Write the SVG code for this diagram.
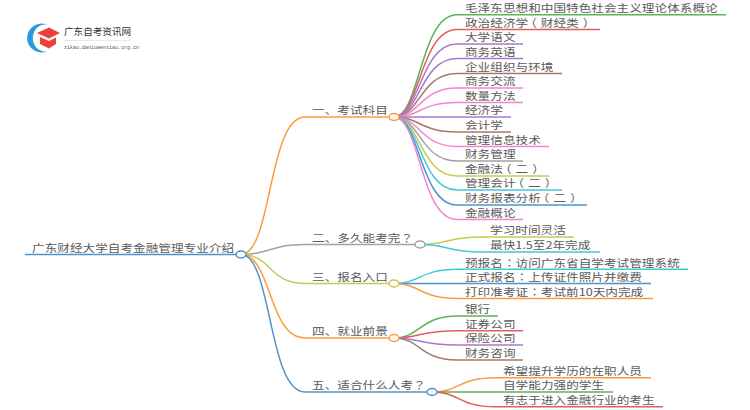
<svg xmlns="http://www.w3.org/2000/svg" width="750" height="410" viewBox="0 0 750 410">
<style>
text{font-family:"Noto Sans CJK SC","Liberation Sans",sans-serif;font-size:10.500px;fill:#5a5a5a}
.t{font-family:"Noto Sans CJK TC","Liberation Sans",sans-serif}
.c{fill:none;stroke-width:1.5}
.n{fill:#fff;stroke-width:1.5}
.g{stroke:#5ab552}.r{stroke:#e65c5c}.p{stroke:#a878d0}.b{stroke:#a57868}.k{stroke:#ee88cc}.a{stroke:#a3a3a3}.o{stroke:#c9c950}.y{stroke:#40c8dc}.l{stroke:#4d94cc}.f{stroke:#ff9a3c}
</style>
<g id="connectors">
<path class="c l" d="M25,254.500H241"/>
<path class="c f" d="M241,254.500C272,254.500 268,117 305,117H394"/>
<path class="c a" d="M241,254.500C272,254.500 268,244.500 305,244.500H420"/>
<path class="c o" d="M241,254.500C272,254.500 268,283.500 305,283.500H394"/>
<path class="c f" d="M241,254.500C272,254.500 268,338 305,338H394"/>
<path class="c l" d="M241,254.500C272,254.500 268,392 305,392H432"/>
<path class="c g" d="M394,117C420,117 420,14.700 457,14.700H726"/>
<path class="c r" d="M394,117C420,117 420,29.500 457,29.500H600"/>
<path class="c p" d="M394,117C420,117 420,44 457,44H523"/>
<path class="c p" d="M394,117C420,117 420,58.500 457,58.500H523"/>
<path class="c b" d="M394,117C420,117 420,73.500 457,73.500H562"/>
<path class="c k" d="M394,117C420,117 420,88 457,88H523"/>
<path class="c k" d="M394,117C420,117 420,102.500 457,102.500H523"/>
<path class="c p" d="M394,117H511"/>
<path class="c b" d="M394,117C420,117 420,132 457,132H511"/>
<path class="c k" d="M394,117C420,117 420,146.500 457,146.500H549"/>
<path class="c a" d="M394,117C420,117 420,161 457,161H523"/>
<path class="c o" d="M394,117C420,117 420,176 457,176H549"/>
<path class="c y" d="M394,117C420,117 420,190 457,190H562"/>
<path class="c l" d="M394,117C420,117 420,205 457,205H587"/>
<path class="c k" d="M394,117C420,117 420,219.500 457,219.500H523"/>
<path class="c o" d="M420,244.500C450,244.500 445,237 482,237H574"/>
<path class="c y" d="M420,244.500C450,244.500 445,252 482,252H600"/>
<path class="c y" d="M394,283.500C420,283.500 420,269.300 457,269.300H688"/>
<path class="c l" d="M394,283.500H651"/>
<path class="c f" d="M394,283.500C420,283.500 420,298.500 457,298.500H653"/>
<path class="c g" d="M394,338C420,338 420,316 457,316H498"/>
<path class="c r" d="M394,338C420,338 420,330.700 457,330.700H523"/>
<path class="c p" d="M394,338C420,338 420,345 457,345H523"/>
<path class="c b" d="M394,338C420,338 420,360 457,360H523"/>
<path class="c f" d="M432,392C460,392 458,377.700 495,377.700H651"/>
<path class="c g" d="M432,392H613"/>
<path class="c r" d="M432,392C460,392 458,406.700 495,406.700H663"/>
</g>
<g id="logo">
<path d="M48,25A14.500,14.500 0 1 0 48,51A12,13.500 0 1 1 48,25Z" fill="#2a9ad8"/>
<path d="M37,33L49,27.500L60,33L49,38.500Z" fill="#ee3f3a"/>
<path d="M40,37L49,41L56,37.500V44L49,48.500L40,44Z" fill="#ee3f3a"/>
<text x="64" y="35" style="font-size:9.600px;fill:#333">广东自考资讯网</text>
<path d="M63,40.500H131" stroke="#ddd" stroke-width="0.700"/>
<text x="64" y="48.500" style="font-size:5px;fill:#555;font-family:'Liberation Mono',monospace">zikao.daniuwenxiao.org.cn</text>
</g>
<g id="root"><text transform="scale(1.205 1)" x="26.560" y="252">广东财经大学自考金融管理专业介绍</text><ellipse class="n l" cx="241" cy="254.500" rx="5" ry="3.500"/></g>
<g id="n1"><text transform="scale(1.205 1)" x="258.920" y="114.500">一、考试科目</text><ellipse class="n f" cx="394" cy="117" rx="5" ry="3.500"/></g>
<g id="n2"><text transform="scale(1.205 1)" x="258.920" y="242">二、多久能考完<tspan class="t">？</tspan></text><ellipse class="n a" cx="420" cy="244.500" rx="5" ry="3.500"/></g>
<g id="n3"><text transform="scale(1.205 1)" x="258.920" y="281">三、报名入口</text><ellipse class="n o" cx="394" cy="283.500" rx="5" ry="3.500"/></g>
<g id="n4"><text transform="scale(1.205 1)" x="258.920" y="335.500">四、就业前景</text><ellipse class="n f" cx="394" cy="338" rx="5" ry="3.500"/></g>
<g id="n5"><text transform="scale(1.205 1)" x="258.920" y="389.500">五、适合什么人考<tspan class="t">？</tspan></text><ellipse class="n l" cx="432" cy="392" rx="5" ry="3.500"/></g>
<g id="leaves" transform="scale(1.205 1)">
<text x="385.890" y="12.400">毛泽东思想和中国特色社会主义理论体系概论</text>
<text x="385.890" y="27">政治经济学<tspan dx="-3.300">（</tspan><tspan dx="3.300">财经类</tspan><tspan dx="3.300">）</tspan></text>
<text x="385.890" y="41.500">大学语文</text>
<text x="385.890" y="56">商务英语</text>
<text x="385.890" y="71">企业组织与环境</text>
<text x="385.890" y="85.500">商务交流</text>
<text x="385.890" y="100">数量方法</text>
<text x="385.890" y="114.500">经济学</text>
<text x="385.890" y="129.500">会计学</text>
<text x="385.890" y="144">管理信息技术</text>
<text x="385.890" y="158.500">财务管理</text>
<text x="385.890" y="173.500">金融法<tspan dx="-3.300">（</tspan><tspan dx="3.300">二</tspan><tspan dx="3.300">）</tspan></text>
<text x="385.890" y="187.500">管理会计<tspan dx="-3.300">（</tspan><tspan dx="3.300">二</tspan><tspan dx="3.300">）</tspan></text>
<text x="385.890" y="202.500">财务报表分析<tspan dx="-3.300">（</tspan><tspan dx="3.300">二</tspan><tspan dx="3.300">）</tspan></text>
<text x="385.890" y="217">金融概论</text>
<text x="406.640" y="234.500">学习时间灵活</text>
<text x="406.640" y="249.500">最快1.5至2年完成</text>
<text x="385.890" y="266.800">预报名<tspan class="t">：</tspan>访问广东省自学考试管理系统</text>
<text x="385.890" y="281.500">正式报名<tspan class="t">：</tspan>上传证件照片并缴费</text>
<text x="385.890" y="296">打印准考证<tspan class="t">：</tspan>考试前10天内完成</text>
<text x="385.890" y="313.500">银行</text>
<text x="385.890" y="328.200">证券公司</text>
<text x="385.890" y="342.500">保险公司</text>
<text x="385.890" y="357.500">财务咨询</text>
<text x="417.430" y="375.200">希望提升学历的在职人员</text>
<text x="417.430" y="389.500">自学能力强的学生</text>
<text x="417.430" y="404.200">有志于进入金融行业的考生</text>
</g>
</svg>
